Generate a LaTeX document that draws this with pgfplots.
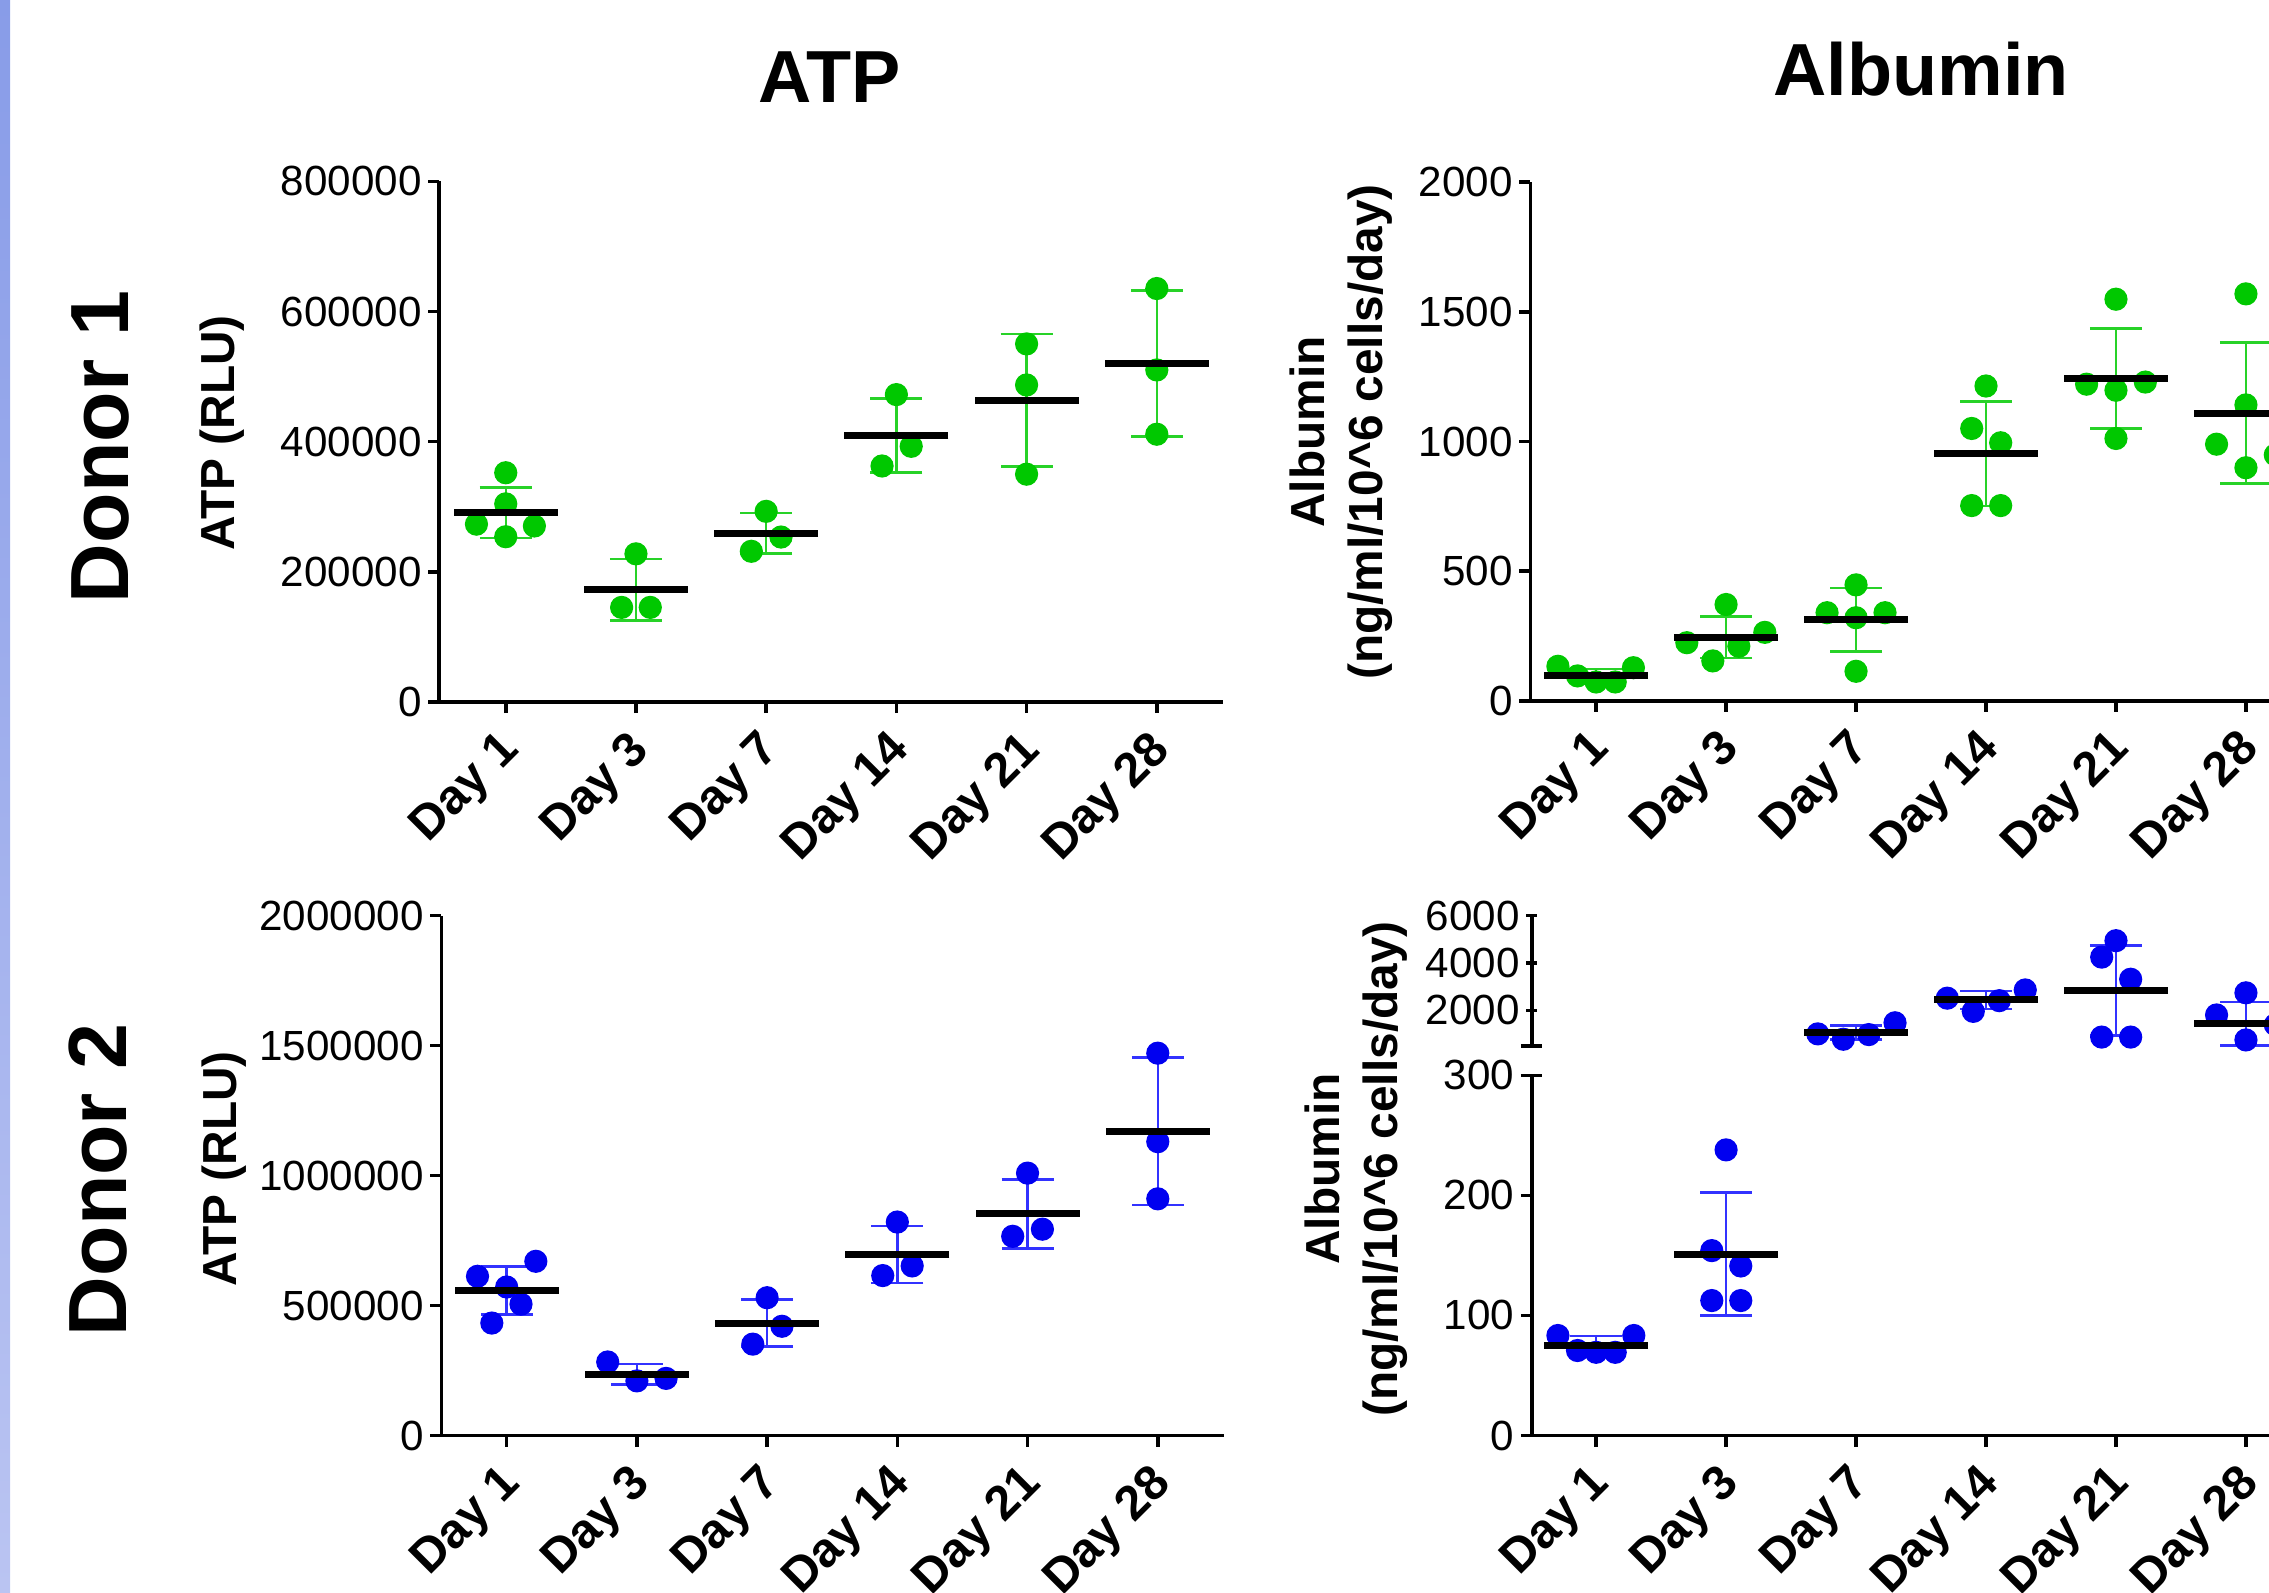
\documentclass[border=0pt]{standalone}
\usepackage{fontspec}
\setmainfont{Liberation Sans}
\usepackage{pgfplots}
\pgfplotsset{compat=1.18}
\usepackage{pgfplotstable}

\definecolor{dgreen}{RGB}{0,200,0}
\definecolor{lgreen}{RGB}{40,210,40}
\definecolor{dblue}{RGB}{0,0,240}
\definecolor{lblue}{RGB}{50,50,255}
\definecolor{stripTop}{RGB}{136,156,232}
\definecolor{stripBot}{RGB}{186,196,242}

% ---- Donor 1, ATP: single points and mean/SD
\pgfplotstableread{
x y
1 352300
1 304500
0.775 273300
1.22 270500
1 254000
1.89 145400
2.11 145400
2 227700
3 293000
3.114 253500
2.886 231600
4 472400
4.114 392900
3.89 362700
5 550300
5 487200
5 350100
6 635400
6 510300
6 411500
}\atpA
\pgfplotstableread{
x y err
1 290800 38700
2 172300 47200
3 259500 31000
4 409300 56800
5 463700 101800
6 520200 112000
}\atpAsum

% ---- Donor 2, ATP
\pgfplotstableread{
x y
1.224 670300
0.776 612600
1 571400
1.11 505500
0.886 432700
1.776 283000
2 210200
2.224 219800
3 530200
3.114 420300
2.89 351600
4 821400
4.114 652500
3.888 615400
5 1009600
5.114 793900
4.886 766500
6 1471100
6 1130500
6 910700
}\atpB
\pgfplotstableread{
x y err
1 557700 92700
2 236300 39200
3 432700 90000
4 696400 110600
5 853000 132600
6 1170300 283600
}\atpBsum

% ---- Donor 1, albumin
\pgfplotstableread{
x y
0.706 133.5
0.857 96.4
1 73
1.147 73
1.287 128
2 371.7
2.298 264.3
1.698 224.4
2.098 210.6
1.898 154.2
3 447.4
2.777 340
3.223 340
3 320.7
3 114.2
4 1214
3.89 1050.3
4.113 995.2
3.89 753
4.113 753
5 1548.6
4.774 1221
5.226 1229.2
5 1197.6
5 1011.7
6 1569.2
6 1141.1
5.774 989.7
6 898.9
6.226 948.4
}\albA
\pgfplotstableread{
x y err
1 97 27
2 245 80.5
3 312.5 122.5
4 952.5 202
5 1243 193
6 1109.5 272
}\albAsum

% ---- Donor 2, albumin (broken axis: 0-300 and 500-6000)
\pgfplotstableread{
x y
0.706 83.3
0.857 70.8
1 69.3
1.147 69.3
1.29 83.3
2 237.9
1.89 154
2.113 141.2
1.89 112.4
2.113 112.4
}\albBlow
\pgfplotstableread{
x y err
1 74.9 7.8
2 151.1 51.2
}\albBlowsum
\pgfplotstableread{
x y
2.706 1012
2.902 786
3.098 982
3.3 1480
3.702 2519
3.902 1962
4.102 2414
4.302 2866
5 4945
4.89 4252
5.113 3318
4.89 877
5.113 877
6 2745
5.774 1811
6 756
6.226 1400
}\albBup
\pgfplotstableread{
x y err
3 1073 300
4 2444 377
5 2851 1900
6 1434 920
}\albBupsum

\pgfplotsset{
  panel/.style={
    scale only axis, anchor=south west, clip=false,
    axis lines=left, axis line style={-, line width=1pt},
    every tick/.style={black, line width=1pt},
    major tick length=0.11cm, tick align=outside,
    xtick={1,...,6},
    xticklabels={Day 1,Day 3,Day 7,Day 14,Day 21,Day 28},
    xmax=6.507, scaled y ticks=false,
    tick label style={font=\fontsize{12}{14}\selectfont},
    xticklabel style={font=\bfseries\fontsize{13.8}{15}\selectfont,
      xshift=0.07cm, yshift=-0.30cm, rotate=45, anchor=east, inner sep=0pt},
    yticklabel style={inner xsep=0pt, xshift=-0.06cm},
  },
  pts/.style={only marks, mark=*, mark size=3.1pt, color=#1},
  ebar/.style={draw=none, mark=none, forget plot,
    error bars/.cd, y dir=both, y explicit, error mark=|,
    error bar style={draw=#1, line width=0.7pt},
    error mark options={draw=#1, line width=0.7pt, mark size=7.4pt}},
  meanln/.style={only marks, mark=-, mark size=14.8pt,
    mark options={black, line width=2pt}},
}

\begin{document}
\begin{tikzpicture}
\useasboundingbox (0,0) rectangle (22.69,15.92);
\clip (0,0) rectangle (22.69,15.92);
\shade[top color=stripTop, bottom color=stripBot] (0,0) rectangle (0.10,15.92);

% Donor 1 - ATP
\begin{axis}[panel, at={(4.392cm,8.90cm)}, width=7.836cm, height=5.206cm,
  xmin=0.489, ymin=0, ymax=800000,
  ytick={0,200000,400000,600000,800000},
  yticklabels={0,200000,400000,600000,800000}]
\addplot[ebar=lgreen] table[x=x, y=y, y error=err] {\atpAsum};
\addplot[pts=dgreen] table {\atpA};
\addplot[meanln] table[x=x, y=y] {\atpAsum};
\end{axis}

% Donor 2 - ATP
\begin{axis}[panel, at={(4.413cm,1.565cm)}, width=7.825cm, height=5.198cm,
  xmin=0.498, ymin=0, ymax=2000000,
  ytick={0,500000,1000000,1500000,2000000},
  yticklabels={0,500000,1000000,1500000,2000000}]
\addplot[ebar=lblue] table[x=x, y=y, y error=err] {\atpBsum};
\addplot[pts=dblue] table {\atpB};
\addplot[meanln] table[x=x, y=y] {\atpBsum};
\end{axis}

% Donor 1 - albumin
\begin{axis}[panel, at={(15.304cm,8.911cm)}, width=7.814cm, height=5.188cm,
  xmin=0.4945, ymin=0, ymax=2000,
  ytick={0,500,1000,1500,2000},
  yticklabels={0,500,1000,1500,2000}]
\addplot[ebar=lgreen] table[x=x, y=y, y error=err] {\albAsum};
\addplot[pts=dgreen] table {\albA};
\addplot[meanln] table[x=x, y=y] {\albAsum};
\end{axis}

% Donor 2 - albumin, lower segment
\begin{axis}[panel, at={(15.319cm,1.565cm)}, width=7.799cm, height=3.602cm,
  xmin=0.506, ymin=0, ymax=300,
  ytick={0,100,200,300}, yticklabels={0,100,200,300}]
\addplot[ebar=lblue] table[x=x, y=y, y error=err] {\albBlowsum};
\addplot[pts=dblue] table {\albBlow};
\addplot[meanln] table[x=x, y=y] {\albBlowsum};
\end{axis}

% Donor 2 - albumin, upper segment
\begin{axis}[panel, at={(15.319cm,5.46cm)}, width=7.799cm, height=1.303cm,
  hide x axis, axis y line=left, y axis line style={-},
  xmin=0.506, ymin=500, ymax=6000,
  ytick={2000,4000,6000}, yticklabels={2000,4000,6000}]
\addplot[ebar=lblue] table[x=x, y=y, y error=err] {\albBupsum};
\addplot[pts=dblue] table {\albBup};
\addplot[meanln] table[x=x, y=y] {\albBupsum};
\end{axis}

% end caps of the broken axis
\draw[line width=1pt] (15.209,5.167) -- (15.419,5.167);
\draw[line width=1pt] (15.209,5.46) -- (15.419,5.46);

% titles and labels
\node[font=\bfseries\fontsize{21}{24}\selectfont] at (8.30,15.15) {ATP};
\node[font=\bfseries\fontsize{21}{24}\selectfont] at (19.21,15.23) {Albumin};
\node[rotate=90, font=\bfseries\fontsize{23.5}{26}\selectfont] at (1.00,11.45) {Donor 1};
\node[rotate=90, font=\bfseries\fontsize{23.5}{26}\selectfont] at (0.98,4.12) {Donor 2};
\node[rotate=90, font=\bfseries\fontsize{13.6}{16.5}\selectfont] at (2.226,11.59) {ATP (RLU)};
\node[rotate=90, font=\bfseries\fontsize{13.6}{16.5}\selectfont] at (2.246,4.23) {ATP (RLU)};
\node[rotate=90, align=center, font=\bfseries\fontsize{13.6}{16.5}\selectfont]
  at (13.41,11.60) {Albumin\\(ng/ml/10\textasciicircum 6 cells/day)};
\node[rotate=90, align=center, font=\bfseries\fontsize{13.6}{16.5}\selectfont]
  at (13.56,4.23) {Albumin\\(ng/ml/10\textasciicircum 6 cells/day)};
\end{tikzpicture}
\end{document}
